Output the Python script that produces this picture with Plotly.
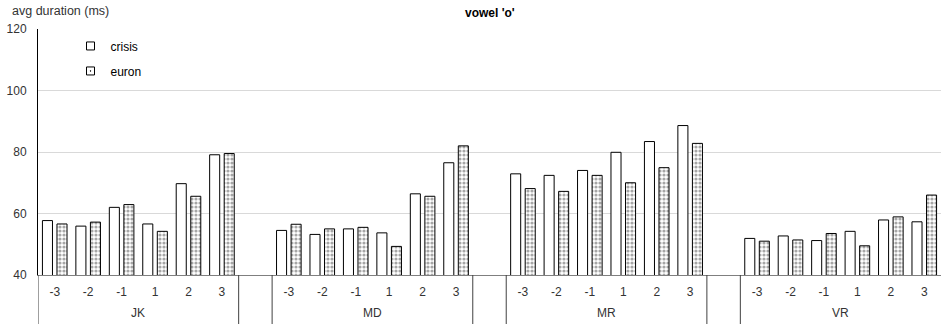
import plotly.graph_objects as go

# Speakers (outer axis level) and position labels (inner level)
speakers = ["JK", "MD", "MR", "VR"]
positions = ["-3", "-2", "-1", "1", "2", "3"]

# Average vowel duration in ms, per speaker, in the order of `positions`
crisis = {
    "JK": [57.7, 55.9, 62.0, 56.6, 69.7, 79.1],
    "MD": [54.5, 53.2, 55.0, 53.7, 66.4, 76.5],
    "MR": [72.9, 72.4, 74.0, 79.9, 83.4, 88.6],
    "VR": [51.9, 52.7, 51.2, 54.2, 57.9, 57.3],
}
euron = {
    "JK": [56.6, 57.2, 62.9, 54.2, 65.6, 79.5],
    "MD": [56.5, 55.0, 55.5, 49.3, 65.6, 82.0],
    "MR": [68.1, 67.2, 72.4, 70.0, 74.9, 82.8],
    "VR": [51.0, 51.4, 53.5, 49.5, 58.9, 66.0],
}

# Each speaker block takes len(positions) slots plus one empty slot as a spacer
block = len(positions) + 1
xs, xlabels, ys_c, ys_e = [], [], [], []
for gi, sp in enumerate(speakers):
    for si, pos in enumerate(positions):
        xs.append(gi * block + si)
        xlabels.append(pos)
        ys_c.append(crisis[sp][si])
        ys_e.append(euron[sp][si])

n_slots = len(speakers) * block - 1
font = "Liberation Sans, Arial, sans-serif"
outline = dict(color="black", width=1)

fig = go.Figure()
fig.add_trace(go.Bar(
    x=xs, y=ys_c, name="crisis", showlegend=False,
    marker=dict(color="white", line=outline),
))
fig.add_trace(go.Bar(
    x=xs, y=ys_e, name="euron", showlegend=False,
    marker=dict(color="white", line=outline,
                pattern=dict(shape=".", fgcolor="#4d4d4d", bgcolor="white",
                             size=4, solidity=0.5)),
))

# Compact legend entries with small square keys
fig.add_trace(go.Scatter(
    x=[None], y=[None], mode="markers", name="crisis", legendgroup="c",
    marker=dict(symbol="square", size=8, color="white",
                line=dict(color="black", width=1)),
))
fig.add_trace(go.Scatter(
    x=[None], y=[None], mode="markers", name="euron", legendgroup="e",
    marker=dict(symbol="square-dot", size=8, color="white",
                line=dict(color="black", width=1)),
))

# Group separators below the axis and speaker labels
shapes = []
annotations = []
for gi, sp in enumerate(speakers):
    left = gi * block - 0.5
    right = gi * block + len(positions) - 0.5
    edges = [left] if gi == len(speakers) - 1 else [left, right]
    for xv in edges:
        shapes.append(dict(type="line", xref="x", yref="paper", x0=xv, x1=xv,
                           y0=0, y1=-0.2, line=dict(color="#404040", width=1)))
    annotations.append(dict(x=(left + right) / 2, y=-0.155, xref="x", yref="paper",
                            text=sp, showarrow=False, yanchor="middle",
                            font=dict(family=font, size=12, color="#333333")))

annotations.append(dict(x=-28 / 903, y=1.073, xref="paper", yref="paper",
                        xanchor="left", yanchor="middle", showarrow=False,
                        text="avg duration (ms)",
                        font=dict(family=font, size=12.5, color="#333333")))

fig.update_layout(
    width=942, height=324,
    margin=dict(l=38, r=1, t=29, b=49),
    paper_bgcolor="white", plot_bgcolor="white",
    barmode="group", bargap=0.13, bargroupgap=0.31,
    title=dict(text="<b>vowel 'o'</b>", x=0.52, y=0.962, xanchor="center", yanchor="middle",
               font=dict(family=font, size=12, color="black")),
    showlegend=True,
    legend=dict(x=0.036, y=0.99, xanchor="left", yanchor="top",
                font=dict(family=font, size=12, color="black"),
                bgcolor="rgba(0,0,0,0)", tracegroupgap=6, itemwidth=30),
    shapes=shapes,
    annotations=annotations,
    xaxis=dict(
        range=[-0.5, n_slots - 0.5], tickmode="array", tickvals=xs, ticktext=xlabels,
        showgrid=False, ticks="", showline=True, linecolor="#7f7f7f", linewidth=1,
        tickfont=dict(family=font, size=12, color="#333333"), zeroline=False,
        ticklabelstandoff=6,
    ),
    yaxis=dict(
        range=[40, 120], tickvals=[40, 60, 80, 100, 120], showgrid=True,
        gridcolor="#d9d9d9", gridwidth=1, showline=True, linecolor="black",
        linewidth=1, ticks="", zeroline=False, ticklabelstandoff=8,
        tickfont=dict(family=font, size=12, color="#333333"),
    ),
)

fig.write_html("out.html")
